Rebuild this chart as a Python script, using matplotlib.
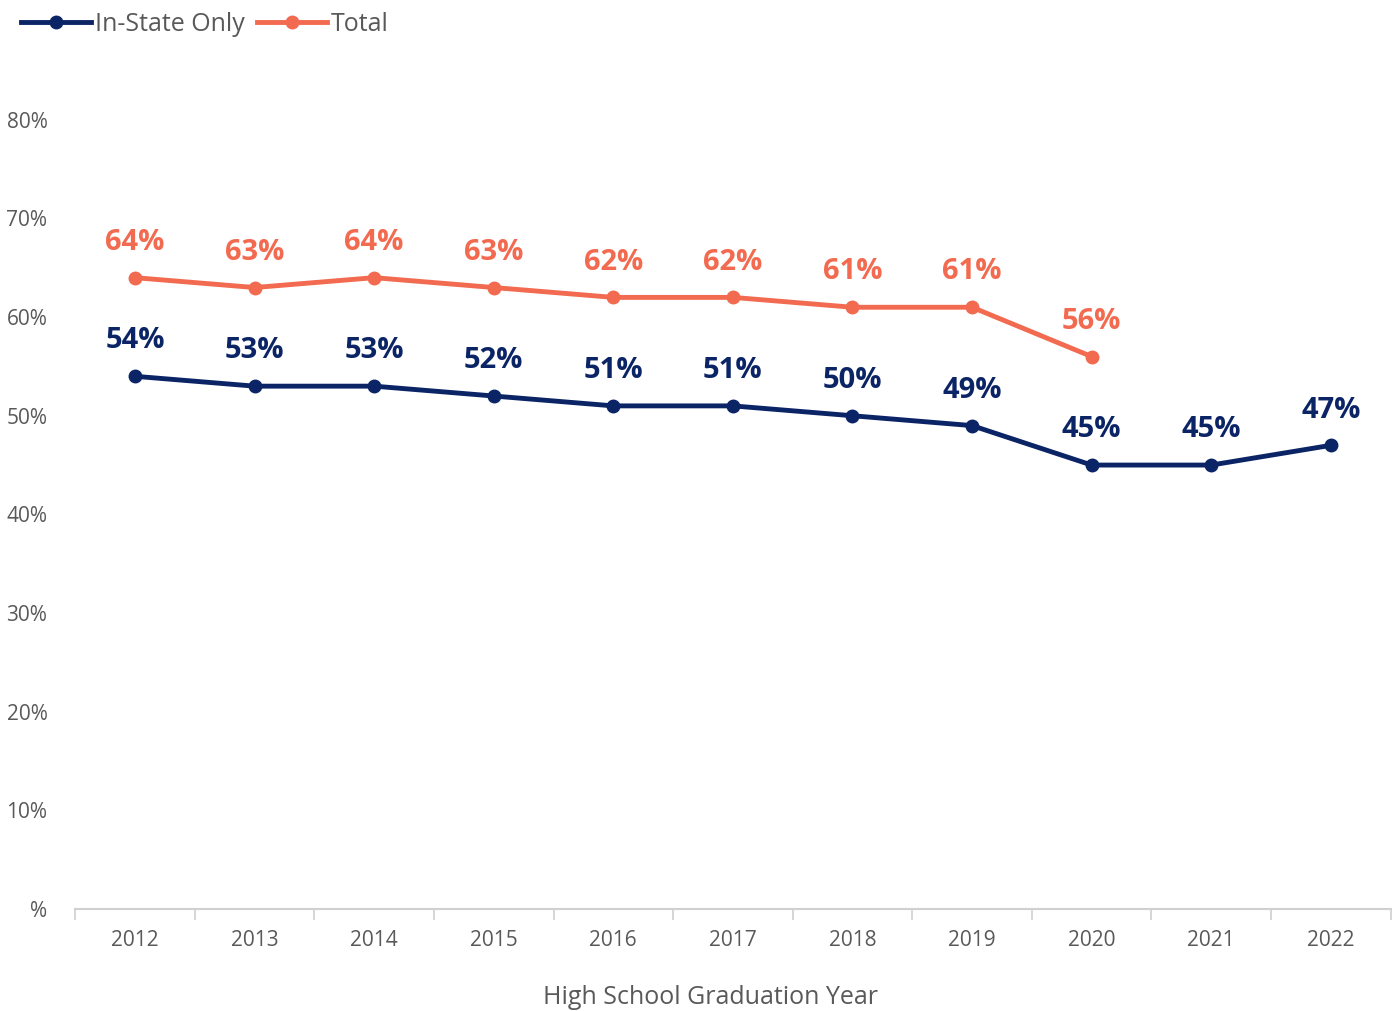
import matplotlib
matplotlib.use("Agg")
import matplotlib.pyplot as plt
from matplotlib.ticker import FixedLocator, NullFormatter

# Data
years = ["2012", "2013", "2014", "2015", "2016", "2017", "2018", "2019", "2020", "2021", "2022"]
in_state = [54, 53, 53, 52, 51, 51, 50, 49, 45, 45, 47]
total = [64, 63, 64, 63, 62, 62, 61, 61, 56]

navy = "#0b2466"
coral = "#f26a4f"
grey = "#595959"

plt.rcParams["font.family"] = ["Open Sans", "DejaVu Sans"]

fig = plt.figure(figsize=(13.92, 10.11), dpi=100)
ax = fig.add_axes([0.054, 0.101, 0.945, 0.878])

x_in = list(range(len(in_state)))
x_tot = list(range(len(total)))

ax.plot(x_in, in_state, color=navy, lw=3.5, marker="o", ms=9, label="In-State Only")
ax.plot(x_tot, total, color=coral, lw=3.5, marker="o", ms=9, label="Total")

# data labels
for x, v in zip(x_in, in_state):
    ax.annotate(f"{v}%", (x, v), xytext=(0, 15), textcoords="offset points",
                ha="center", va="bottom", fontsize=21, fontweight="bold", color=navy)
for x, v in zip(x_tot, total):
    ax.annotate(f"{v}%", (x, v), xytext=(0, 15), textcoords="offset points",
                ha="center", va="bottom", fontsize=21, fontweight="bold", color=coral)

ax.set_xlim(-0.5, len(years) - 0.5)
ax.set_ylim(0, 90)

ax.set_yticks(range(0, 90, 10))
ax.set_yticklabels(["%"] + [f"{v}%" for v in range(10, 90, 10)])
ax.tick_params(axis="y", length=0, labelsize=15, labelcolor=grey, pad=20)

ax.set_xticks(range(len(years)))
ax.set_xticklabels(years)
ax.tick_params(axis="x", which="major", length=0, labelsize=15, labelcolor=grey, pad=15)
ax.xaxis.set_minor_locator(FixedLocator([i - 0.5 for i in range(len(years) + 1)]))
ax.xaxis.set_minor_formatter(NullFormatter())
ax.tick_params(axis="x", which="minor", length=8, width=1.2, color="#d0d0d0")

for s in ["top", "right", "left"]:
    ax.spines[s].set_visible(False)
ax.spines["bottom"].set_color("#d0d0d0")
ax.spines["bottom"].set_linewidth(1.5)

ax.set_xlabel("High School Graduation Year", fontsize=18, color=grey)
ax.xaxis.set_label_coords(0.483, -0.086)

fig.legend(loc="upper left", bbox_to_anchor=(0.008, 0.998), ncol=2, frameon=False,
           fontsize=18, labelcolor=grey, handlelength=2.8, handletextpad=0.15,
           columnspacing=0.5, borderaxespad=0)

fig.savefig("out.png", dpi=100)
